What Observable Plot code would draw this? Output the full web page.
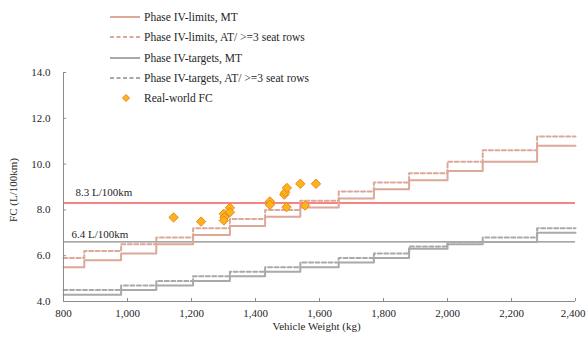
<!DOCTYPE html>
<html><head><meta charset="utf-8">
<script src="https://cdn.jsdelivr.net/npm/d3@7"></script>
<script src="https://cdn.jsdelivr.net/npm/@observablehq/plot@0.6"></script>
<style>
body{margin:0;background:#fff;font-family:"Liberation Serif","Times New Roman",serif;}
#wrap{position:relative;width:586px;height:342px;}
#legend{position:absolute;left:110px;top:7px;font-size:11.5px;color:#262626;}
.row{height:20.3px;display:flex;align-items:center;}
.row svg{margin-right:4px;}
</style></head><body><div id="wrap"><div id="chart"></div><div id="legend"></div></div>
<script>
const binEdges = [800, 865, 980, 1090, 1205, 1320, 1430, 1540, 1660, 1770, 1880, 2000, 2110, 2280, 2400];
const limitsMT = [5.5, 5.8, 6.1, 6.5, 6.9, 7.3, 7.7, 8.1, 8.5, 8.9, 9.3, 9.7, 10.1, 10.8];
const limitsAT = [5.9, 6.2, 6.5, 6.8, 7.2, 7.6, 8.0, 8.4, 8.8, 9.2, 9.6, 10.1, 10.6, 11.2];
const targetsMT = [4.3, 4.3, 4.5, 4.7, 4.9, 5.1, 5.3, 5.5, 5.7, 5.9, 6.3, 6.5, 6.6, 7.0];
const targetsAT = [4.5, 4.5, 4.7, 4.9, 5.1, 5.3, 5.5, 5.7, 5.9, 6.1, 6.4, 6.6, 6.8, 7.2];
const fcWeight = [1144, 1230, 1301, 1303, 1301, 1320, 1320, 1445, 1445, 1497, 1490, 1493, 1498, 1540, 1589, 1555];
const fcValue  = [7.67, 7.49, 7.83, 7.68, 7.54, 8.09, 7.90, 8.37, 8.22, 8.12, 8.67, 8.77, 8.96, 9.14, 9.14, 8.19];
const refLines = [{value: 8.3, label: "8.3 L/100km"}, {value: 6.6, label: "6.4 L/100km"}];
const yTicks = [4, 6, 8, 10, 12, 14];
const xTicks = [800, 1000, 1200, 1400, 1600, 1800, 2000, 2200, 2400];
const legendLabels = ["Phase IV-limits, MT", "Phase IV-limits, AT/ >=3 seat rows", "Phase IV-targets, MT", "Phase IV-targets, AT/ >=3 seat rows", "Real-world FC"];

const limitColor = "#dca898";
const targetColor = "#a9a9a9";
const redColor = "#f55a5a";
const refGray = "#8a8a8a";
const axisColor = "#8c8c8c";
const dash = "4,2.5";

const steps = vals => binEdges.map((x, i) => ({x, y: vals[Math.min(i, vals.length - 1)]}));
const points = fcWeight.map((w, i) => ({w, v: fcValue[i]}));
const lastTick = xTicks[xTicks.length - 1];

const chart = Plot.plot({
  width: 586, height: 342,
  marginLeft: 63, marginRight: 11, marginTop: 72, marginBottom: 41,
  style: {fontFamily: "Liberation Serif, Times New Roman, serif", fontSize: "11px", color: "#262626", background: "#fff", overflow: "visible"},
  x: {domain: [800, 2400]},
  y: {domain: [4, 14]},
  marks: [
    Plot.ruleY([refLines[1].value], {stroke: refGray, strokeWidth: 1.2}),
    Plot.ruleY([refLines[0].value], {stroke: redColor, strokeWidth: 1.5}),
    Plot.line(steps(targetsAT), {x: "x", y: "y", curve: "step-after", stroke: targetColor, strokeWidth: 2, strokeDasharray: dash}),
    Plot.line(steps(targetsMT), {x: "x", y: "y", curve: "step-after", stroke: targetColor, strokeWidth: 2}),
    Plot.line(steps(limitsAT), {x: "x", y: "y", curve: "step-after", stroke: limitColor, strokeWidth: 2, strokeDasharray: dash}),
    Plot.line(steps(limitsMT), {x: "x", y: "y", curve: "step-after", stroke: limitColor, strokeWidth: 2}),
    Plot.text([refLines[0]], {x: () => 800, y: "value", text: "label", textAnchor: "start", dx: 12, dy: -11, fill: "#262626"}),
    Plot.text([refLines[1]], {x: () => 800, y: "value", text: "label", textAnchor: "start", dx: 8, dy: -7, fill: "#262626"}),
    Plot.dot(points, {x: "w", y: "v", symbol: "diamond2", r: 4.2, fill: "#ffb31a", stroke: "#e8861e", strokeWidth: 1}),
    Plot.ruleX([800], {y1: 4, y2: 14, stroke: axisColor}),
    Plot.ruleY([4], {stroke: axisColor}),
    Plot.axisY({ticks: yTicks, tickFormat: d => d.toFixed(1), tickSize: -3, tickPadding: 16, stroke: axisColor, label: null}),
    Plot.axisX({ticks: xTicks, tickFormat: d3.format(","), tickSize: -3, tickPadding: 10.5, stroke: axisColor, label: null, text: null}),
    Plot.axisX({ticks: xTicks.filter(t => t !== lastTick), tickFormat: d3.format(","), tickSize: 0, tickPadding: 7.5, label: null}),
    Plot.axisX({ticks: [lastTick], tickFormat: d3.format(","), tickSize: 0, tickPadding: 7.5, label: null, dx: -2.5}),
    Plot.text(["FC (L/100km)"], {frameAnchor: "left", rotate: -90, dx: -50, dy: 3, textAnchor: "middle", lineAnchor: "middle", fill: "#262626"}),
    Plot.text(["Vehicle Weight (kg)"], {frameAnchor: "bottom", dy: 25, dx: -3, textAnchor: "middle", lineAnchor: "middle", fill: "#262626"})
  ]
});
document.getElementById("chart").appendChild(chart);

const legend = document.getElementById("legend");
const swatches = [
  `<line x1="0" x2="30" y1="5" y2="5" stroke="${limitColor}" stroke-width="2"/>`,
  `<line x1="0" x2="30" y1="5" y2="5" stroke="${limitColor}" stroke-width="2" stroke-dasharray="${dash}"/>`,
  `<line x1="0" x2="30" y1="5" y2="5" stroke="${targetColor}" stroke-width="2"/>`,
  `<line x1="0" x2="30" y1="5" y2="5" stroke="${targetColor}" stroke-width="2" stroke-dasharray="${dash}"/>`,
  `<path d="M16,1.5L19.5,5L16,8.5L12.5,5Z" fill="#ffb31a" stroke="#e8861e" stroke-width="1"/>`
];
legendLabels.forEach((lab, i) => {
  const row = document.createElement("div");
  row.className = "row";
  row.innerHTML = `<svg width="30" height="10">${swatches[i]}</svg><span>${lab.replace(/</g, "&lt;").replace(/>/g, "&gt;")}</span>`;
  legend.appendChild(row);
});
</script></body></html>
